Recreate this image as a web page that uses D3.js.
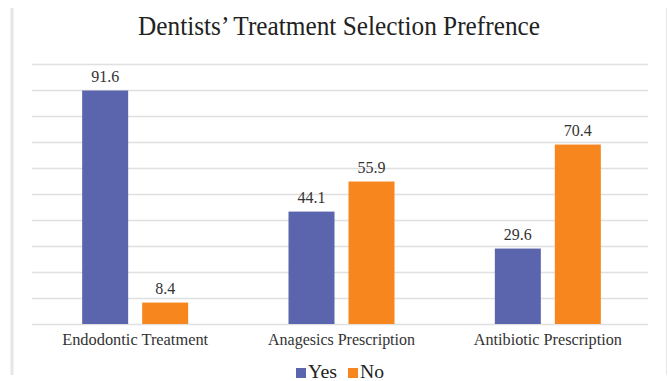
<!DOCTYPE html>
<html><head><meta charset="utf-8">
<script src="https://cdn.jsdelivr.net/npm/d3@7"></script>
<style>body{margin:0;background:#fff}</style>
</head><body>
<svg id="c" width="668" height="381"></svg>
<script>
const categories = ["Endodontic Treatment", "Anagesics Prescription", "Antibiotic Prescription"];
const seriesNames = ["Yes", "No"];
const yesValues = [91.6, 44.1, 29.6];
const noValues = [8.4, 55.9, 70.4];
const title = "Dentists\u2019 Treatment Selection Prefrence";

const colors = {Yes: "#5A65AD", No: "#F7861F"};
const svg = d3.select("#c");
const W = 668, H = 381;
const m = {left: 32, right: 17, top: 64, bottom: 57};

// frame lines
svg.append("line").attr("x1", 12).attr("x2", 12).attr("y1", 8).attr("y2", 375)
  .attr("stroke", "#e6e6e6").attr("stroke-width", 3);
svg.append("line").attr("x1", 666.5).attr("x2", 666.5).attr("y1", 8).attr("y2", 375)
  .attr("stroke", "#e6e6e6").attr("stroke-width", 1);

const x0 = d3.scaleBand().domain(categories).range([m.left, W - m.right]).padding(0);
const y = d3.scaleLinear().domain([0, 102]).range([H - m.bottom, m.top]);

const gridVals = d3.range(0, 11).map(i => i * 10.2);
svg.append("g").selectAll("line").data(gridVals).join("line")
  .attr("x1", m.left).attr("x2", W - m.right - 3)
  .attr("y1", d => Math.round(y(d)) + 0.5).attr("y2", d => Math.round(y(d)) + 0.5)
  .attr("stroke", "#e0e0e0").attr("stroke-width", 1.5);

const barW = 46, gap = 14;
const data = categories.map((c, i) => ({c, vals: [{k: "Yes", v: yesValues[i]}, {k: "No", v: noValues[i]}]}));

const g = svg.append("g");
data.forEach(d => {
  const cx = x0(d.c) + x0.bandwidth() / 2;
  d.vals.forEach((s, j) => {
    const bx = j === 0 ? cx - gap / 2 - barW : cx + gap / 2;
    g.append("rect").attr("x", bx).attr("y", y(s.v)).attr("width", barW)
      .attr("height", y(0) - y(s.v)).attr("fill", colors[s.k]);
    g.append("text").attr("x", bx + barW / 2).attr("y", y(s.v) - 9)
      .attr("text-anchor", "middle").attr("font-family", "Liberation Serif")
      .attr("font-size", 16).attr("fill", "#333")
      .text(s.v.toFixed(1));
  });
});

// category axis labels
const labW = [146, 147, 148];
svg.append("g").selectAll("text").data(categories).join("text")
  .attr("x", d => x0(d) + x0.bandwidth() / 2).attr("y", 345)
  .attr("text-anchor", "middle").attr("font-family", "Liberation Serif")
  .attr("font-size", 16).attr("fill", "#333")
  .attr("textLength", (d, i) => labW[i]).attr("lengthAdjust", "spacingAndGlyphs")
  .text(d => d);

// title
svg.append("text").attr("x", 339).attr("y", 35).attr("text-anchor", "middle")
  .attr("font-family", "Liberation Serif").attr("font-size", 27).attr("fill", "#222")
  .attr("textLength", 402).attr("lengthAdjust", "spacingAndGlyphs")
  .text(title);

// legend
const leg = [{k: "Yes", x: 296, tw: 29}, {k: "No", x: 348, tw: 24}];
leg.forEach(l => {
  svg.append("rect").attr("x", l.x).attr("y", 368).attr("width", 10).attr("height", 10)
    .attr("fill", colors[l.k]);
  svg.append("text").attr("x", l.x + 12).attr("y", 378).attr("font-family", "Liberation Serif")
    .attr("font-size", 18).attr("fill", "#222")
    .attr("textLength", l.tw).attr("lengthAdjust", "spacingAndGlyphs").text(l.k);
});
</script>
</body></html>
